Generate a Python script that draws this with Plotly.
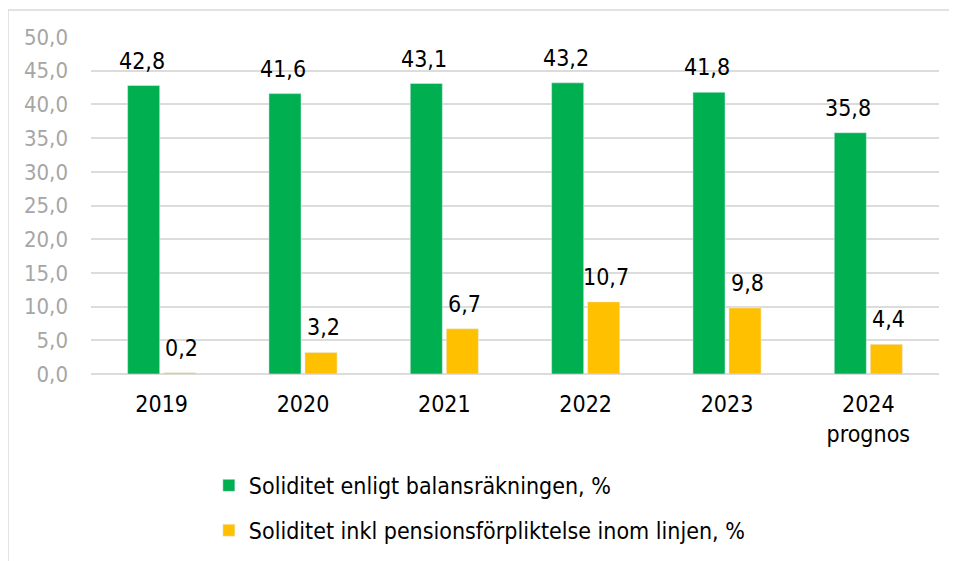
import plotly.graph_objects as go

categories = ["2019", "2020", "2021", "2022", "2023", "2024<br>prognos"]
balans = [42.8, 41.6, 43.1, 43.2, 41.8, 35.8]
pension = [0.2, 3.2, 6.7, 10.7, 9.8, 4.4]
name_balans = "Soliditet enligt balansräkningen, %"
name_pension = "Soliditet inkl pensionsförpliktelse inom linjen, %"

GREEN = "#00B050"
YELLOW = "#FFC000"
FONT = "DejaVu Sans Condensed, DejaVu Sans, sans-serif"

fig = go.Figure()
fig.add_trace(go.Bar(x=categories, y=balans, name=name_balans, marker_color=GREEN,
                     legendgroup="a"))
fig.add_trace(go.Bar(x=categories, y=pension, name=name_pension, marker_color=YELLOW,
                     legendgroup="b"))

for vals, dx in ((balans, -20), (pension, 20)):
    for i, v in enumerate(vals):
        fig.add_annotation(x=i, y=v, text=f"{v:.1f}".replace(".", ","), showarrow=False,
                           xref="x", yref="y",
                           xshift=dx, yshift=10, yanchor="bottom",
                           font=dict(family=FONT, size=23, color="#000000"))

fig.update_layout(
    width=941, height=553,
    margin=dict(l=83, r=10, t=29, b=186),
    paper_bgcolor="white", plot_bgcolor="white",
    barmode="group", bargap=0.49, bargroupgap=0.11,
    separators=", ",
    font=dict(family=FONT, size=22, color="#000000"),
    showlegend=True,
    legend=dict(x=0.139, y=-0.263, xanchor="left", yanchor="top",
                traceorder="grouped", tracegroupgap=12,
                font=dict(family=FONT, size=23, color="#000000"),
                bgcolor="rgba(0,0,0,0)"),
    xaxis=dict(type="category", showgrid=False, showline=False, ticks="",
               range=[-0.5, 5.5], ticklabelstandoff=14,
               tickfont=dict(family=FONT, size=23, color="#000000")),
    yaxis=dict(range=[0, 50], dtick=5, tickformat=".1f", showgrid=True,
               gridcolor="#DCDCDC", gridwidth=1.5, zeroline=True,
               zerolinecolor="#DCDCDC", zerolinewidth=1.5, showline=False,
               tickfont=dict(family=FONT, size=22, color="#A6A6A6"), ticklen=0,
               ticks="", ticklabelstandoff=22),
    shapes=[dict(type="line", xref="paper", yref="paper", x0=-0.0979, x1=1.1,
                 y0=1.0799, y1=1.0799, line=dict(color="#D9D9D9", width=1.5)),
            dict(type="line", xref="paper", yref="paper", x0=-0.0979, x1=-0.0979,
                 y0=1.0799, y1=-0.7, line=dict(color="#D9D9D9", width=1.5))],
)

fig.write_html("out.html")
